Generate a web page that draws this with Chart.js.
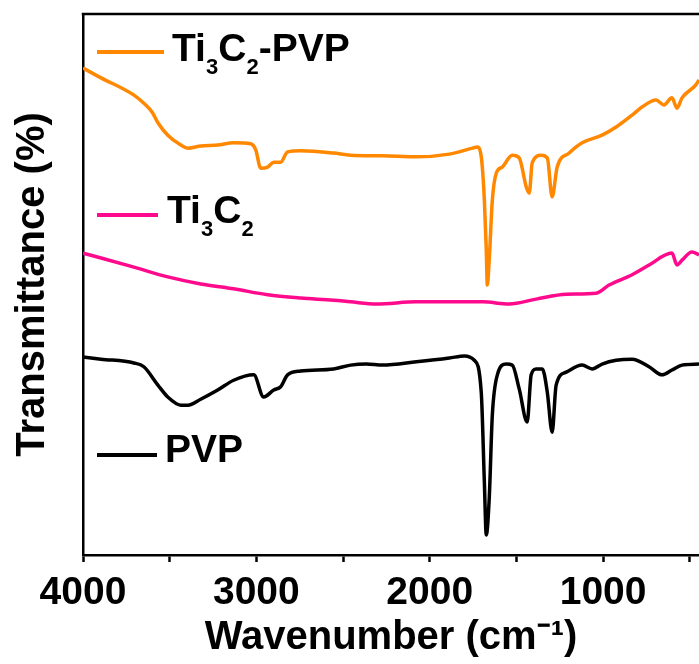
<!DOCTYPE html>
<html>
<head>
<meta charset="utf-8">
<script src="https://cdn.jsdelivr.net/npm/chart.js@4"></script>
<style>
  html, body { margin: 0; padding: 0; background: #fff; }
  #wrap { position: relative; width: 699px; height: 664px; overflow: hidden; }
  .lg { position: absolute; font-family: 'Liberation Sans', Arial, sans-serif; font-weight: bold;
        font-size: 39px; line-height: 39px; color: #000; white-space: nowrap; }
  .lg .s { font-size: 22px; position: relative; top: 13px; }
  .ln { position: absolute; height: 4px; }
</style>
</head>
<body>
<div id="wrap">
  <canvas id="c"></canvas>
  <div class="ln" style="left:97px;top:50px;width:67px;background:#FF8800"></div>
  <div class="lg" style="left:172px;top:28px">Ti<span class="s">3</span>C<span class="s">2</span>-PVP</div>
  <div class="ln" style="left:97px;top:213px;width:61px;background:#FF0A8C"></div>
  <div class="lg" style="left:167px;top:190px">Ti<span class="s">3</span>C<span class="s">2</span></div>
  <div class="ln" style="left:97px;top:453px;width:60px;background:#000"></div>
  <div class="lg" style="left:165px;top:429px">PVP</div>
</div>
<script>
// Ti3C2-PVP
const ti3c2pvpWn = [4000,3896,3706,3649,3600,3568,3511,3436,3395,3321,3223,3131,3033,3004,2975,2935,2900,2860,2820,2745,2555,2457,2273,2077,1887,1754,1726,1703,1685,1674,1668,1657,1639,1616,1582,1524,1484,1443,1426,1409,1357,1322,1294,1265,1196,1121,1006,925,833,776,695,649,603,574,545,465,447];
const ti3c2pvpT  = [90.0,88.2,85.0,83.5,81.8,79.9,77.6,75.8,75.2,75.6,75.8,76.2,76.0,74.9,71.5,71.7,72.6,72.6,74.5,74.7,74.3,73.9,73.8,73.6,74.1,75.2,75.4,73.6,65.6,56.4,49.9,54.5,65.6,70.6,71.7,73.9,73.4,68.0,66.9,72.5,73.9,73.4,66.2,71.7,74.3,76.2,77.6,79.1,81.3,82.8,84.1,83.2,84.5,82.6,84.5,86.9,87.8];
// Ti3C2
const ti3c2Wn = [4000,3896,3706,3511,3321,3131,2935,2745,2555,2457,2307,2077,1697,1541,1386,1213,1040,966,833,735,603,574,545,488,447];
const ti3c2T  = [55.8,54.9,53.2,51.4,50.1,49.2,48.1,47.5,47.1,46.8,46.4,46.8,46.8,46.4,47.3,48.2,48.4,49.9,51.8,53.6,55.8,53.6,54.5,56.0,55.5];
// PVP
const pvpWn = [4000,3896,3706,3649,3568,3511,3436,3395,3321,3223,3131,3015,2958,2900,2860,2820,2745,2555,2457,2365,2273,2077,1887,1800,1743,1703,1685,1674,1657,1639,1610,1559,1524,1484,1438,1415,1386,1351,1322,1294,1271,1213,1121,1063,1006,925,833,735,660,603,545,447];
const pvpT  = [36.6,36.2,35.5,34.8,31.4,29.2,27.7,27.7,28.8,30.5,32.3,33.3,29.2,30.5,31.1,33.3,34.0,34.4,35.1,35.3,35.1,35.7,36.4,36.8,36.0,30.1,13.5,3.7,10.4,25.9,33.3,35.3,35.1,30.7,24.6,33.3,34.4,34.4,30.1,22.7,31.4,33.8,35.1,34.4,35.3,36.0,36.2,34.8,33.3,34.2,35.1,35.3];

const xMin = 447, xMax = 4000;
const xTickValues = [4000, 3500, 3000, 2500, 2000, 1500, 1000, 500];
const xLabelValues = [4000, 3000, 2000, 1000];

function pts(xs, ys) { return xs.map((x, i) => ({ x: x, y: ys[i] })); }

const FONT = "'Liberation Sans', Arial, sans-serif";

const topFrame = {
  id: 'topFrame',
  afterDraw(chart) {
    const { ctx, chartArea } = chart;
    ctx.save();
    ctx.strokeStyle = '#000';
    ctx.lineWidth = 2.5;
    ctx.beginPath();
    ctx.moveTo(chartArea.left - 1.25, chartArea.top);
    ctx.lineTo(chart.width, chartArea.top);
    ctx.stroke();
    ctx.restore();
  }
};

new Chart(document.getElementById('c'), {
  type: 'line',
  data: {
    datasets: [
      { label: 'Ti3C2-PVP', data: pts(ti3c2pvpWn, ti3c2pvpT), borderColor: '#FF8800' },
      { label: 'Ti3C2', data: pts(ti3c2Wn, ti3c2T), borderColor: '#FF0A8C' },
      { label: 'PVP', data: pts(pvpWn, pvpT), borderColor: '#000000' }
    ]
  },
  options: {
    responsive: true,
    maintainAspectRatio: false,
    animation: false,
    layout: { padding: { top: 14, right: 0, bottom: 0, left: 0 } },
    datasets: {
      line: { borderWidth: 3.5, pointRadius: 0, cubicInterpolationMode: 'monotone', fill: false }
    },
    plugins: { legend: { display: false }, tooltip: { enabled: false } },
    scales: {
      x: {
        type: 'linear',
        reverse: true,
        min: xMin,
        max: xMax,
        afterFit(s) { s.height = 109; },
        afterBuildTicks(s) { s.ticks = xTickValues.map(v => ({ value: v })); },
        ticks: {
          autoSkip: false,
          maxRotation: 0,
          color: '#000',
          padding: 8,
          font: { family: FONT, size: 39, weight: 'bold' },
          callback: (v) => (xLabelValues.includes(v) ? String(v) : '')
        },
        grid: { display: true, drawOnChartArea: false, drawTicks: true, tickLength: 7, tickColor: '#000', tickWidth: 2.5 },
        border: { display: true, color: '#000', width: 2.5 },
        title: {
          display: true,
          text: 'Wavenumber (cm\u207B\u00B9)',
          color: '#000',
          font: { family: FONT, size: 40, weight: 'bold' },
          padding: { top: 0, bottom: 2 }
        }
      },
      y: {
        min: 0,
        max: 100,
        afterFit(s) { s.width = 83; },
        ticks: { display: false },
        grid: { display: false, drawTicks: false },
        border: { display: true, color: '#000', width: 2.5 },
        title: {
          display: true,
          text: 'Transmittance (%)',
          color: '#000',
          font: { family: FONT, size: 40, weight: 'bold' },
          padding: { top: 9, bottom: 0 }
        }
      }
    }
  },
  plugins: [topFrame]
});
</script>
</body>
</html>
